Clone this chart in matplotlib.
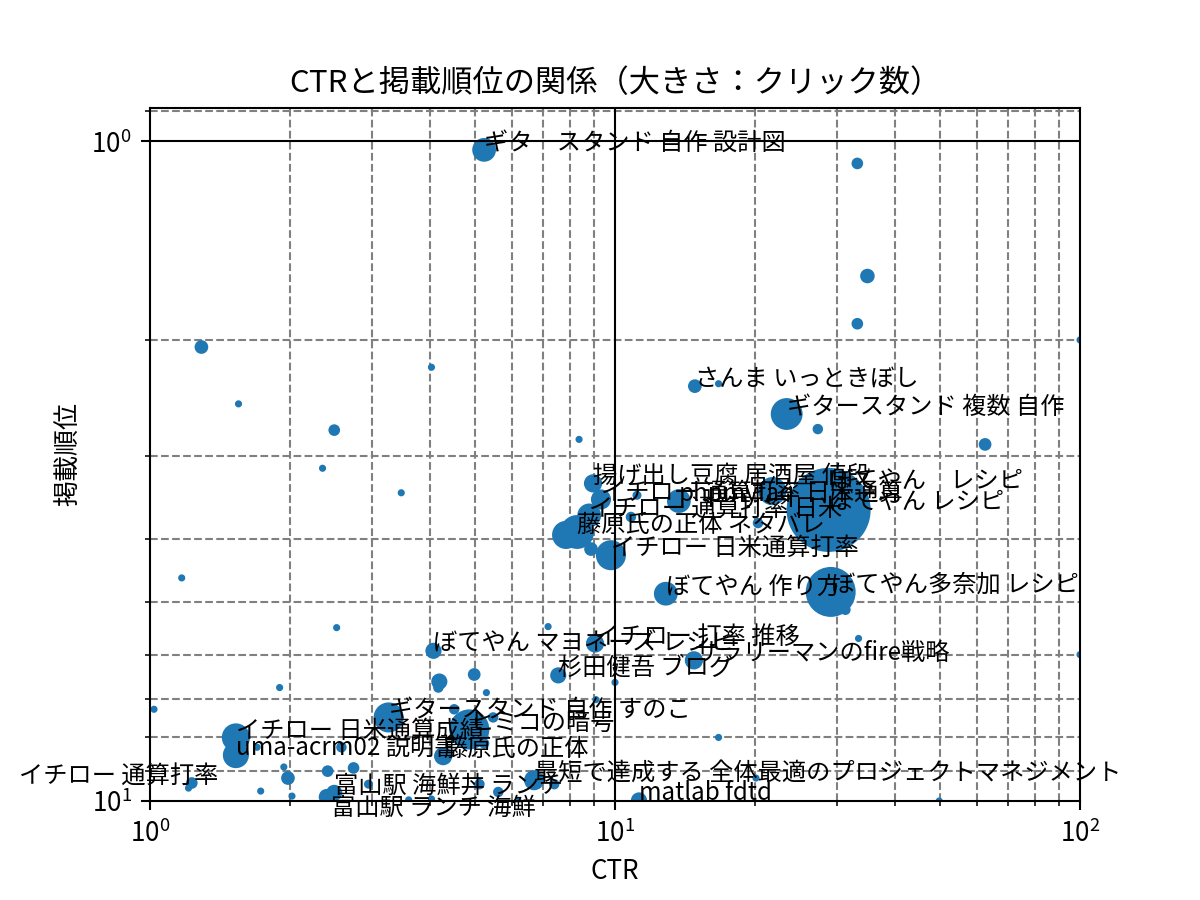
import matplotlib
matplotlib.use("Agg")
import matplotlib.pyplot as plt

plt.rcParams['font.family'] = ['Noto Sans CJK JP', 'DejaVu Sans']
plt.rcParams['mathtext.fontset'] = 'custom'
plt.rcParams['mathtext.rm'] = 'Noto Sans CJK JP'
plt.rcParams['mathtext.it'] = 'Noto Sans CJK JP'
plt.rcParams['mathtext.bf'] = 'Noto Sans CJK JP'

# keyword data ("" = no label)
keywords = [
    "ギタ　スタンド 自作 設計図", "", "", "", "", "", "", "", "", "",
    "", "", "", "", "", "さんま いっときぼし", "", "ギタースタンド 複数 自作", "", "",
    "揚げ出し豆腐 居酒屋 値段", "イチロー 通算打率 日米通算", "イチロー 通算打率 日米",
    "藤原氏の正体 ネタバレ", "", "", "イチロー 日米通算打率", "", "", "phpmyfaq",
    "", "", "ぼてやん　レシピ", "ぼてやん レシピ", "ぼてやん 作り方", "ぼてやん多奈加 レシピ", "",
    "イチロー 打率 推移", "ぼてやん マヨネーズ レシピ", "サラリーマンのfire戦略",
    "杉田健吾 ブログ", "", "", "", "", "", "", "", "matlab fdtd",
    "最短で達成する 全体最適のプロジェクトマネジメント", "", "", "", "", "", "", "", "",
    "富山駅 海鮮丼 ランチ", "富山駅 ランチ 海鮮", "", "", "", "", "", "", "", "", "", "",
    "イチロー 日米通算成績", "uma-acrm02 説明書", "", "", "イチロー 通算打率",
    "ギタースタンド 自作 すのこ", "", "ヒミコの暗号", "", "", "藤原氏の正体", "", "", "", "",
]
ctr = [
    5.23, 33.2, 34.9, 33.2, 100, 1.29, 1.55, 2.49, 4.03, 8.37,
    2.35, 3.47, 1.17, 2.52, 7.18, 14.85, 16.7, 23.4, 27.3, 62.5,
    8.97, 9.33, 8.80, 8.29, 7.85, 8.88, 9.80, 10.82, 11.15, 13.72,
    20.3, 21.8, 28.8, 28.8, 12.86, 29.1, 31.3,
    9.06, 4.07, 14.78, 7.55, 33.4, 100, 10.0, 9.10, 16.7, 20.1, 49.8, 11.26,
    6.70, 7.40, 6.19, 5.61, 5.11, 4.03, 3.60, 2.95, 2.40,
    2.49, 2.45, 2.74, 2.41, 2.58, 2.02, 1.98, 1.94, 1.73, 1.70, 1.90, 1.02,
    1.53, 1.53, 1.23, 1.21, 0.524,
    3.26, 4.51, 4.86, 5.47, 5.23, 4.27, 4.19, 4.17, 4.98, 5.29,
]
position = [
    1.03, 1.08, 1.60, 1.89, 2.0, 2.05, 2.50, 2.74, 2.20, 2.83,
    3.13, 3.41, 4.59, 5.46, 5.44, 2.35, 2.33, 2.59, 2.73, 2.88,
    3.30, 3.49, 3.69, 3.91, 3.95, 4.15, 4.24, 3.71, 3.44, 3.51,
    3.79, 3.39, 3.36, 3.62, 4.85, 4.82, 5.13,
    5.77, 5.92, 6.12, 6.45, 5.67, 6.0, 6.61, 7.02, 8.01, 9.23, 10.0, 9.98,
    9.30, 9.43, 10.0, 9.69, 9.43, 9.93, 9.96, 9.43, 9.86,
    9.72, 10.5, 8.91, 9.01, 8.29, 9.83, 9.23, 8.88, 9.66, 8.29, 6.73, 7.26,
    8.01, 8.52, 9.39, 9.56, 9.39,
    7.47, 7.26, 7.79, 7.47, 8.18, 8.55, 6.59, 6.73, 6.43, 6.85,
]
clicks = [
    22, 4, 7, 4, 1, 6, 1, 4, 1, 1,
    1, 1, 1, 1, 1, 6, 1, 42, 3, 5,
    12, 15, 22, 48, 32, 6, 37, 3, 2, 22,
    3, 32, 15, 326, 22, 110, 3,
    12, 9, 12, 9, 1, 1, 1, 1, 1, 1, 1, 9,
    15, 3, 1, 3, 3, 1, 1, 2, 9,
    9, 6, 4, 4, 3, 1, 6, 1, 1, 1, 1, 1,
    32, 27, 4, 1, 5,
    37, 3, 69, 3, 3, 12, 9, 3, 5, 1,
]

fig, ax = plt.subplots(figsize=(6.4, 4.8), dpi=187.5)
ax.set_axisbelow(True)
ax.scatter(ctr, position, s=[c * 3 for c in clicks])
for k, x, y in zip(keywords, ctr, position):
    if k:
        ax.text(x, y, k, fontsize=9.3)

ax.set_xscale('log')
ax.set_yscale('log')
ax.set_xlim(1, 100)
ax.set_ylim(10, 0.89)
ax.grid(which='minor', color='gray', linestyle='--')
ax.axvline(10, color='black', lw=0.8)
ax.axhline(1, color='black', lw=0.8)

ax.set_title('CTRと掲載順位の関係（大きさ：クリック数）')
ax.set_xlabel('CTR')
ax.set_ylabel('掲載順位')
plt.savefig("out.png")
